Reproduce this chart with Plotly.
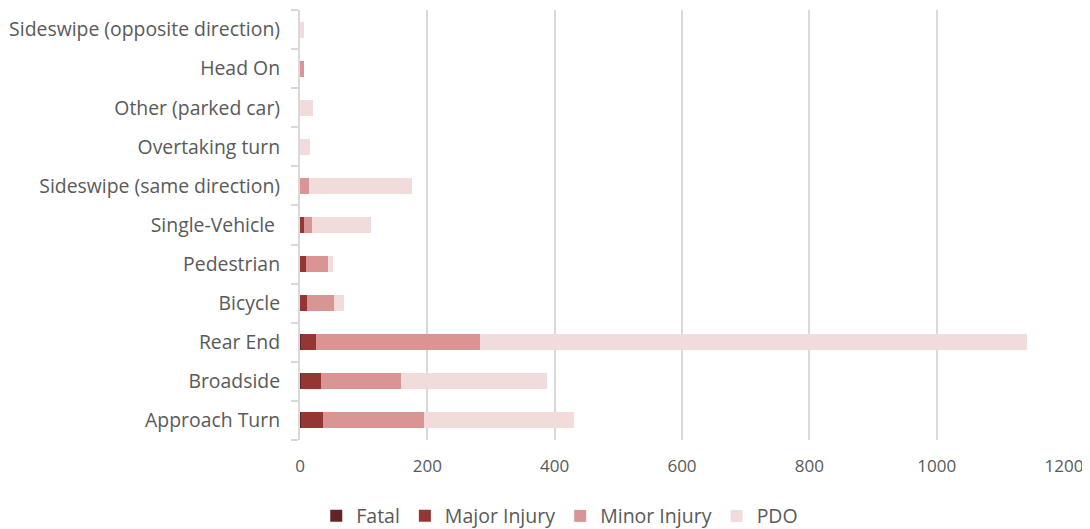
import plotly.graph_objects as go

categories = [
    "Approach Turn",
    "Broadside",
    "Rear End",
    "Bicycle",
    "Pedestrian",
    "Single-Vehicle ",
    "Sideswipe (same direction)",
    "Overtaking turn",
    "Other (parked car)",
    "Head On",
    "Sideswipe (opposite direction)",
]
fatal = [1, 1, 1, 0, 0, 0, 0, 0, 0, 0, 0]
major_injury = [35, 32, 24, 11, 9, 6, 0, 0, 0, 0, 0]
minor_injury = [159, 126, 258, 42, 35, 13, 14, 0, 0, 7, 0]
pdo = [235, 229, 859, 16, 8, 92, 162, 16, 21, 0, 6]

series = [
    ("Fatal", fatal, "#632523"),
    ("Major Injury", major_injury, "#943634"),
    ("Minor Injury", minor_injury, "#D99594"),
    ("PDO", pdo, "#F2DBDB"),
]

fig = go.Figure()
for name, vals, color in series:
    fig.add_trace(go.Bar(
        y=categories, x=vals, name=name, orientation="h",
        marker=dict(color=color, line=dict(width=0)),
    ))

grey = "#595959"
family = "Open Sans, Liberation Sans, sans-serif"

# page body has an 8px margin, so the figure is 8px smaller than the window
fig.update_layout(
    barmode="stack",
    bargap=0.59,
    width=1082, height=521,
    margin=dict(l=292, r=26, t=2, b=89),
    plot_bgcolor="white", paper_bgcolor="white",
    font=dict(family=family, size=18, color=grey),
    showlegend=True,
    legend=dict(orientation="h", x=0.34, xanchor="center", yref="container",
                y=0.062, yanchor="top", font=dict(family=family, size=19.5, color=grey),
                itemwidth=30, traceorder="normal"),
    xaxis=dict(range=[0, 1200], dtick=200, showgrid=True, gridcolor="#D9D9D9",
               gridwidth=2, zeroline=False, ticks="", fixedrange=True,
               tickfont=dict(family=family, size=17, color=grey),
               automargin=False, ticklabelstandoff=14),
    yaxis=dict(categoryorder="array", categoryarray=categories, showline=True,
               linecolor="#D9D9D9", linewidth=2, ticks="outside", tickson="boundaries",
               ticklen=7, tickcolor="#D9D9D9", tickwidth=2,
               tickfont=dict(family=family, size=19.4, color=grey),
               ticksuffix="  ", ticklabelstandoff=4, showgrid=False, automargin=False),
)
fig.write_html("out.html")
